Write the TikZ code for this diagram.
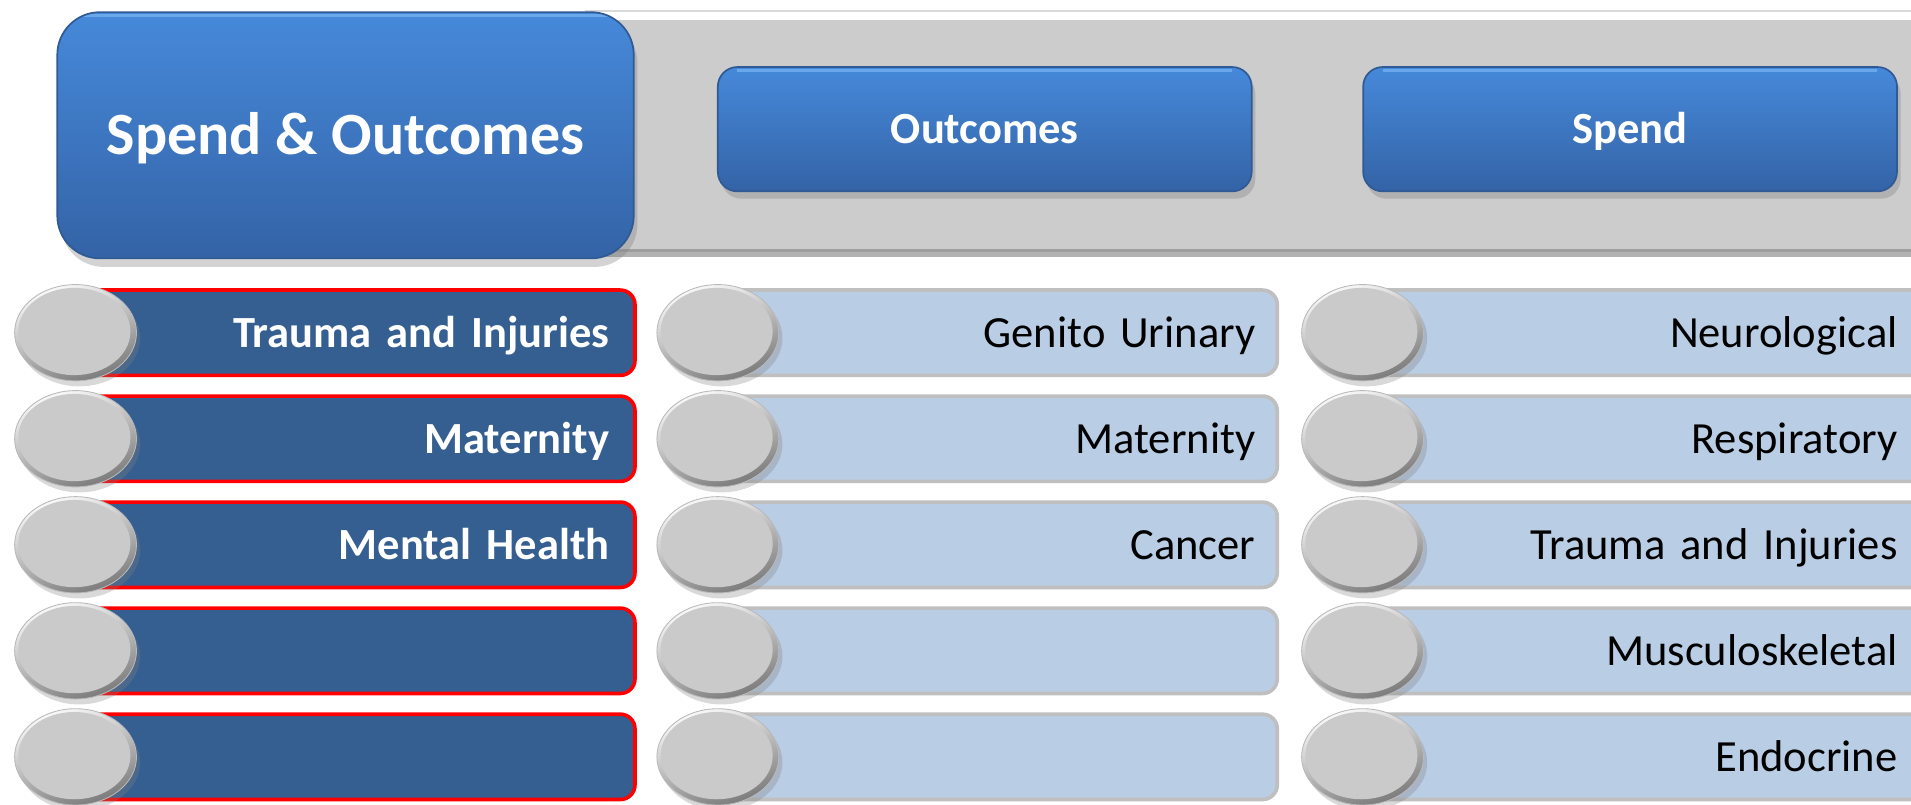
\documentclass[tikz,border=0pt]{standalone}
\usepackage{fontspec}
\setmainfont{Carlito}
\usetikzlibrary{shapes.geometric,shadows}
\definecolor{bandgrey}{HTML}{CCCCCC}
\definecolor{bandline}{HTML}{DADADA}
\definecolor{bandedge}{HTML}{9E9E9E}
\definecolor{blueTop}{HTML}{4689DA}
\definecolor{blueBot}{HTML}{3463A6}
\definecolor{blueEdge}{HTML}{2F5A94}
\definecolor{blueHi}{HTML}{6AA8EC}
\definecolor{darkbarfill}{HTML}{365F91}
\definecolor{lightbarfill}{HTML}{B9CDE5}
\definecolor{lightbaredge}{HTML}{BFBFBF}
\definecolor{coinface}{HTML}{CACACA}
\definecolor{coinrimlight}{HTML}{FAFAFA}
\definecolor{coinrimdark}{HTML}{7A7A7A}
\newcommand\rowstrut{\rule[-3pt]{0pt}{12.7pt}}
\newcommand\bigstrut{\rule[-4pt]{0pt}{17pt}}
\begin{document}
\begin{tikzpicture}[x=0.1mm,y=-0.1mm,
  band/.style={fill=bandgrey, inner sep=0pt, minimum width=112mm, minimum height=18.9mm,
    drop shadow={shadow xshift=0mm, shadow yshift=-0.6mm, opacity=0.3, fill=black}},
  hilite/.style={path picture={\draw[blueHi, line width=0.7pt]
      ([xshift=1.6mm,yshift=-0.25mm]path picture bounding box.north west) --
      ([xshift=-1.6mm,yshift=-0.25mm]path picture bounding box.north east);}},
  mainbox/.style={rounded corners=3.5mm, top color=blueTop, bottom color=blueBot,
    draw=blueEdge, line width=0.4pt, minimum width=47.3mm, minimum height=20.2mm,
    text=white, font=\bfseries\fontsize{14}{16}\selectfont, hilite,
    drop shadow={shadow xshift=0.3mm, shadow yshift=-0.7mm, opacity=0.35}},
  btn/.style={rounded corners=1.6mm, top color=blueTop, bottom color=blueBot,
    draw=blueEdge, line width=0.4pt, minimum width=43.8mm, minimum height=10.2mm,
    text=white, font=\bfseries\fontsize{10.4}{12}\selectfont, hilite,
    drop shadow={shadow xshift=0.3mm, shadow yshift=-0.6mm, opacity=0.35}},
  darkbar/.style={draw=red, line width=0.85pt, fill=darkbarfill, rounded corners=1.2mm,
    minimum height=7mm, text width=41.7mm, inner xsep=2.1mm, align=right,
    text=white, font=\bfseries\fontsize{10.4}{12}\selectfont},
  lightbar/.style={draw=lightbaredge, line width=0.85pt, fill=lightbarfill, rounded corners=1.2mm,
    minimum height=7mm, text width=42.3mm, inner xsep=1.8mm, align=right,
    text=black, font=\fontsize{10.4}{12}\selectfont},
  rightbar/.style={lightbar, text width=39.6mm, inner xsep=4.3mm},
  coin/.style={ellipse, inner sep=0pt, minimum width=10mm, minimum height=7.9mm,
    top color=coinrimlight, bottom color=coinrimdark, shading angle=20,
    draw=gray!55, line width=0.2pt,
    drop shadow={shadow xshift=0.3mm, shadow yshift=-0.45mm, opacity=0.3},
    path picture={\fill[coinface] ([xshift=-0.1mm,yshift=0.1mm]path picture bounding box.center)
      ellipse [x radius=4.6mm, y radius=3.58mm];}}
]
\useasboundingbox (0,0) rectangle (1568,660);

% top band
\draw[bandline, line width=0.6pt] (480,9) -- (1600,9);
\node[band] (band) at (1040,110.5) {};
\draw[bandedge, line width=0.6pt] (band.south west) -- (band.south east);

% headers
\node[mainbox] (main) at (283.5,111) {\bigstrut Spend \& Outcomes};
\node[btn] (outc) at (808,106) {\rowstrut Outcomes};
\node[btn] (spend) at (1337.5,106) {\rowstrut Spend};

% rows
\foreach \i/\lt/\mt/\rt in {1/Trauma and Injuries/Genito Urinary/Neurological,
                            2/Maternity/Maternity/Respiratory,
                            3/Mental Health/Cancer/Trauma and Injuries,
                            4///Musculoskeletal,
                            5///Endocrine}{
  \pgfmathsetmacro{\yy}{273+87*(\i-1)}
  \node[darkbar] (lb\i) at (291.5,\yy) {\lt\rowstrut};
  \node[lightbar] (mb\i) at (818.5,\yy) {\mt\rowstrut};
  \node[rightbar] (rb\i) at (1359,\yy) {\rt\rowstrut};
  \node[coin] (lc\i) at (62,\yy) {};
  \node[coin] (mc\i) at (589,\yy) {};
  \node[coin] (rc\i) at (1118,\yy) {};
}
\end{tikzpicture}
\end{document}
